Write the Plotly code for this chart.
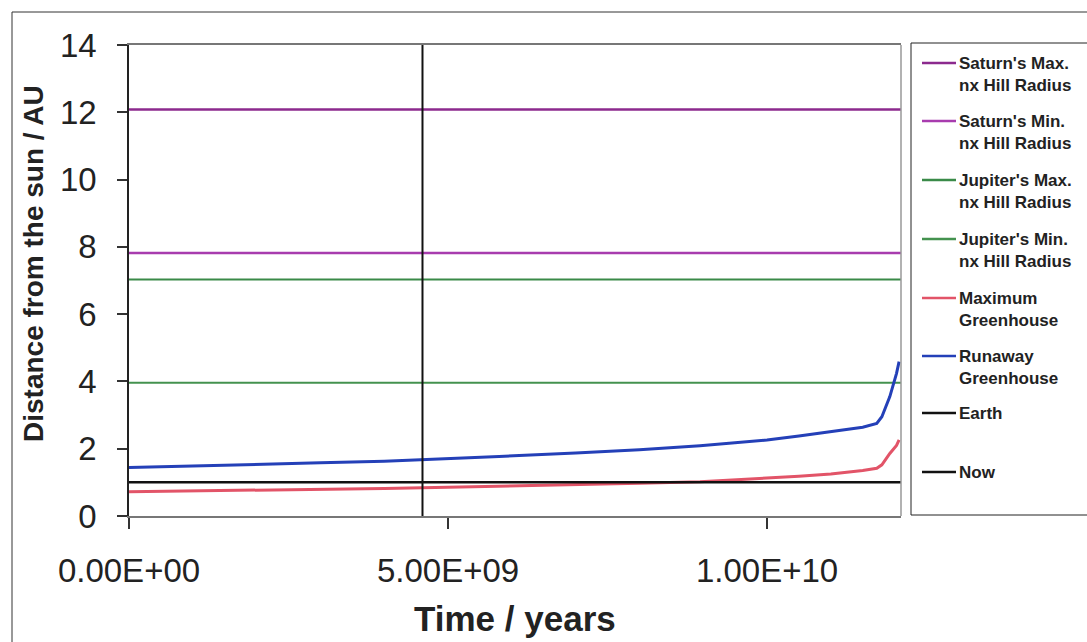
import plotly.graph_objects as go

# ---------------- data ----------------
time_span = [0, 1.21e10]
saturn_max = [12.08, 12.08]
saturn_min = [7.82, 7.82]
jupiter_max = [7.03, 7.03]
jupiter_min = [3.96, 3.96]
earth = [1.0, 1.0]
now_time = [4.6e9, 4.6e9]
now_dist = [0, 14]

gh_time = [0, 1e9, 2e9, 3e9, 4e9, 4.6e9, 5.8e9, 7e9, 8e9, 8.95e9, 1e10,
           1.05e10, 1.1e10, 1.15e10, 1.172e10, 1.18e10, 1.1925e10, 1.203e10, 1.207e10]
runaway_gh = [1.44, 1.48, 1.53, 1.58, 1.63, 1.67, 1.77, 1.87, 1.97, 2.09, 2.26,
              2.38, 2.50, 2.64, 2.75, 2.95, 3.55, 4.24, 4.59]
maximum_gh = [0.72, 0.74, 0.77, 0.79, 0.82, 0.84, 0.88, 0.93, 0.97, 1.02, 1.12,
              1.18, 1.25, 1.35, 1.42, 1.52, 1.86, 2.10, 2.26]

x_tickvals = [0, 5e9, 1e10]
x_ticktext = ["0.00E+00", "5.00E+09", "1.00E+10"]
y_tickvals = [0, 2, 4, 6, 8, 10, 12, 14]

legend_labels = ["Saturn's Max.<br>nx Hill Radius", "Saturn's Min.<br>nx Hill Radius",
                 "Jupiter's Max.<br>nx Hill Radius", "Jupiter's Min.<br>nx Hill Radius",
                 "Maximum<br>Greenhouse", "Runaway<br>Greenhouse", "Earth", "Now"]

# ---------------- styles ----------------
C_SAT_MAX = "#8C2A8E"
C_SAT_MIN = "#A83CAE"
C_JUP_MAX = "#3A8A48"
C_JUP_MIN = "#44924F"
C_MAX_GH = "#E25468"
C_RUN_GH = "#2440B8"
C_BLACK = "#111111"

W, H = 1087, 642
L, R, T, B = 129, 186, 45, 126
PW, PH = W - L - R, H - T - B


def px(x):
    return (x - L) / PW


def py(y):
    return (H - B - y) / PH


fig = go.Figure()

series = [
    (time_span, saturn_max, C_SAT_MAX, 2.5),
    (time_span, saturn_min, C_SAT_MIN, 2.5),
    (time_span, jupiter_max, C_JUP_MAX, 2.2),
    (time_span, jupiter_min, C_JUP_MIN, 2.2),
    (gh_time, maximum_gh, C_MAX_GH, 3),
    (gh_time, runaway_gh, C_RUN_GH, 3),
    (time_span, earth, C_BLACK, 2.5),
    (now_time, now_dist, C_BLACK, 2),
]
for (xs, ys, c, w), name in zip(series, legend_labels):
    fig.add_trace(go.Scatter(x=xs, y=ys, mode="lines", name=name.replace("<br>", " "),
                             line=dict(color=c, width=w), showlegend=False,
                             hoverinfo="skip"))

shapes = []
annotations = []

# outer chart border
shapes.append(dict(type="rect", xref="paper", yref="paper",
                   x0=px(12), x1=px(1100), y0=py(660), y1=py(12),
                   line=dict(color="#333", width=1), layer="below"))
# right plot border (gray)
shapes.append(dict(type="line", xref="paper", yref="paper", x0=1, x1=1, y0=0, y1=1,
                   line=dict(color="#999", width=1.5)))
# legend box
shapes.append(dict(type="rect", xref="paper", yref="paper",
                   x0=px(911), x1=px(1100), y0=py(515), y1=py(43),
                   line=dict(color="#222", width=1)))

leg_y = [63, 121, 180, 239, 298, 356, 413, 472]
leg_colors = [C_SAT_MAX, C_SAT_MIN, C_JUP_MAX, C_JUP_MIN, C_MAX_GH, C_RUN_GH, C_BLACK, C_BLACK]
for yy, c, lab in zip(leg_y, leg_colors, legend_labels):
    shapes.append(dict(type="line", xref="paper", yref="paper",
                       x0=px(922), x1=px(956), y0=py(yy), y1=py(yy),
                       line=dict(color=c, width=2.5)))
    annotations.append(dict(xref="paper", yref="paper", x=px(957), y=py(yy - 11),
                            xanchor="left", yanchor="top", align="left", showarrow=False,
                            text=lab, font=dict(family="Liberation Sans, Arial", size=17,
                                                color="#222", weight="bold")))

# axis titles
annotations.append(dict(xref="paper", yref="paper", x=px(33), y=py(264), text="Distance from the sun / AU",
                        textangle=-90, showarrow=False, xanchor="center", yanchor="middle",
                        font=dict(family="Liberation Sans, Arial", size=28, color="#222", weight="bold")))
annotations.append(dict(xref="paper", yref="paper", x=px(515), y=py(618), text="Time / years",
                        showarrow=False, xanchor="center", yanchor="middle",
                        font=dict(family="Liberation Sans, Arial", size=35, color="#222", weight="bold")))

fig.update_layout(
    width=W, height=H,
    margin=dict(l=L, r=R, t=T, b=B),
    paper_bgcolor="white", plot_bgcolor="white",
    shapes=shapes, annotations=annotations,
    showlegend=False,
    xaxis=dict(range=[0, 1.21e10], tickvals=x_tickvals, ticktext=x_ticktext,
               showgrid=False, zeroline=False, showline=True, linecolor="#777", linewidth=1.5,
               mirror=True, ticks="outside", ticklen=11, tickcolor="#333", tickwidth=1.5,
               ticklabelstandoff=14,
               tickfont=dict(family="Liberation Sans, Arial", size=33, color="#222")),
    yaxis=dict(range=[0, 14], tickvals=y_tickvals,
               showgrid=False, zeroline=False, showline=True, linecolor="#222", linewidth=1.5,
               ticks="outside", ticklen=10, tickcolor="#333", tickwidth=1.5,
               ticklabelstandoff=14,
               tickfont=dict(family="Liberation Sans, Arial", size=33, color="#222")),
)

fig.write_html("out.html")
